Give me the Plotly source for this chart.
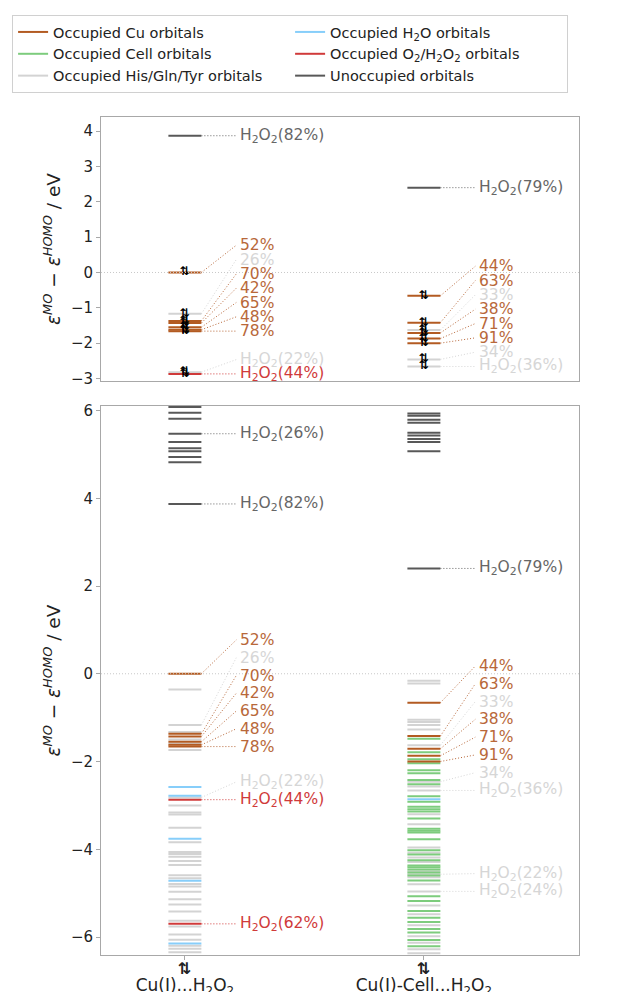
import plotly.graph_objects as go

# ---------------- data ----------------
system_names = ["Cu(I)...H<sub>2</sub>O<sub>2</sub>",
                "Cu(I)-Cell...H<sub>2</sub>O<sub>2</sub>"]
pair_symbol = "⇅"

category_keys = ["Cu", "H2O", "Cell", "O2", "His", "Unocc"]
category_names = ["Occupied Cu orbitals",
                  "Occupied H<sub>2</sub>O orbitals",
                  "Occupied Cell orbitals",
                  "Occupied O<sub>2</sub>/H<sub>2</sub>O<sub>2</sub> orbitals",
                  "Occupied His/Gln/Tyr orbitals",
                  "Unoccupied orbitals"]

# Cu(I)...H2O2 orbital energies (eV, relative to HOMO)
s1_cu = [0.00, -1.37, -1.43, -1.55, -1.62, -1.66]
s1_h2o = [-2.58, -2.78, -3.76, -4.72, -6.15]
s1_cell = []
s1_o2 = [-2.87, -5.70]
s1_his = [-0.36, -1.17, -1.33, -1.50, -1.59, -1.74, -2.82, -3.00, -3.16, -3.21,
          -3.51, -3.84, -4.06, -4.11, -4.17, -4.27, -4.36, -4.59, -4.66, -4.79,
          -4.85, -4.97, -5.14, -5.26, -5.42, -5.63, -5.76, -5.94, -6.06, -6.20,
          -6.27, -6.35]
s1_unocc = [6.08, 5.95, 5.81, 5.47, 5.28, 5.14, 5.07, 4.94, 4.82, 3.87]

# Cu(I)-Cell...H2O2 orbital energies (eV, relative to HOMO)
s2_cu = [-0.66, -1.42, -1.71, -1.87, -2.00]
s2_h2o = [-2.86]
s2_cell = [-1.48, -1.79, -1.95, -2.04, -2.20, -2.27, -2.42, -2.52, -2.79, -2.92,
           -3.03, -3.09, -3.14, -3.30, -3.53, -3.58, -3.62, -3.77, -4.02, -4.12,
           -4.25, -4.37, -4.41, -4.46, -4.53, -4.60, -4.71, -5.07, -5.18, -5.41,
           -5.56, -5.66, -5.82, -5.90, -6.07, -6.21]
s2_o2 = []
s2_his = [-0.16, -0.22, -1.05, -1.10, -1.17, -1.27, -1.63, -2.46, -2.57, -2.66,
          -3.20, -3.43, -3.96, -4.08, -4.19, -4.29, -4.50, -4.57, -4.64, -4.80,
          -4.96, -5.28, -5.48, -5.73, -5.98, -6.13, -6.28, -6.37]
s2_unocc = [5.93, 5.88, 5.79, 5.72, 5.49, 5.43, 5.35, 5.28, 5.07, 2.40]

# labelled orbitals: energy, category, label
s1_label_energy = [5.47, 3.87, 0.00, -1.17, -1.37, -1.43, -1.55, -1.62, -1.66, -2.82, -2.87, -5.70]
s1_label_cat = ["Unocc", "Unocc", "Cu", "His", "Cu", "Cu", "Cu", "Cu", "Cu", "His", "O2", "O2"]
s1_label_text = ["H<sub>2</sub>O<sub>2</sub>(26%)", "H<sub>2</sub>O<sub>2</sub>(82%)", "52%", "26%",
                 "70%", "42%", "65%", "48%", "78%", "H<sub>2</sub>O<sub>2</sub>(22%)",
                 "H<sub>2</sub>O<sub>2</sub>(44%)", "H<sub>2</sub>O<sub>2</sub>(62%)"]

s2_label_energy = [2.40, -0.66, -1.42, -1.63, -1.71, -1.87, -2.00, -2.46, -2.66, -4.57, -4.96]
s2_label_cat = ["Unocc", "Cu", "Cu", "His", "Cu", "Cu", "Cu", "His", "His", "His", "His"]
s2_label_text = ["H<sub>2</sub>O<sub>2</sub>(79%)", "44%", "63%", "33%", "38%", "71%", "91%", "34%",
                 "H<sub>2</sub>O<sub>2</sub>(36%)", "H<sub>2</sub>O<sub>2</sub>(22%)",
                 "H<sub>2</sub>O<sub>2</sub>(24%)"]

# ---------------- styling ----------------
line_color = {"Cu": "#b35b22", "H2O": "#87cefa", "Cell": "#7dcc7d",
              "O2": "#d03a3a", "His": "#d3d3d3", "Unocc": "#585858"}
label_color = {"Cu": "#b8683a", "H2O": "#87cefa", "Cell": "#7dcc7d",
               "O2": "#d03a3a", "His": "#d6d6d6", "Unocc": "#666666"}
draw_order = ["His", "Cell", "H2O", "O2", "Cu", "Unocc"]
FONT = "DejaVu Sans"

HALF = 0.069          # half width of a level line (x units)
CONN_END = 0.215      # connector end offset
LABEL_X = 0.222       # label offset
GAP = 0.405           # minimum label spacing (eV)
TOP_RANGE = [-3.07, 4.40]
BOT_RANGE = [-6.41, 6.10]
X_RANGE = [-0.351, 1.649]

systems = [
    {"Cu": s1_cu, "H2O": s1_h2o, "Cell": s1_cell, "O2": s1_o2, "His": s1_his, "Unocc": s1_unocc,
     "le": s1_label_energy, "lc": s1_label_cat, "lt": s1_label_text},
    {"Cu": s2_cu, "H2O": s2_h2o, "Cell": s2_cell, "O2": s2_o2, "His": s2_his, "Unocc": s2_unocc,
     "le": s2_label_energy, "lc": s2_label_cat, "lt": s2_label_text},
]

# label positions: pushed upward to keep a minimum spacing
for s in systems:
    idx = sorted(range(len(s["le"])), key=lambda i: s["le"][i])
    pos = [0.0] * len(idx)
    prev = None
    for i in idx:
        p = s["le"][i] if prev is None else max(s["le"][i], prev + GAP)
        pos[i] = p
        prev = p
    s["lp"] = pos

fig = go.Figure()


def segments(xc, energies):
    xs, ys = [], []
    for e in energies:
        xs += [xc - HALF, xc + HALF, None]
        ys += [e, e, None]
    return xs, ys


def in_range(v, r):
    return r[0] <= v <= r[1]


# bottom panel: all orbitals
for key in draw_order:
    xs, ys = [], []
    for xc, s in enumerate(systems):
        a, b = segments(xc, s[key])
        xs += a
        ys += b
    if not xs:
        xs, ys = [None], [None]
    fig.add_trace(go.Scatter(x=xs, y=ys, mode="lines", xaxis="x2", yaxis="y2",
                             line=dict(color=line_color[key], width=2),
                             name=category_names[category_keys.index(key)],
                             legendrank=category_keys.index(key) + 1,
                             hoverinfo="skip", showlegend=True))

# top panel: labelled orbitals only
for key in draw_order:
    xs, ys = [], []
    for xc, s in enumerate(systems):
        es = [e for e, c in zip(s["le"], s["lc"]) if c == key and in_range(e, TOP_RANGE)]
        a, b = segments(xc, es)
        xs += a
        ys += b
    if xs:
        fig.add_trace(go.Scatter(x=xs, y=ys, mode="lines", xaxis="x", yaxis="y",
                                 line=dict(color=line_color[key], width=2),
                                 hoverinfo="skip", showlegend=False))

# electron pair markers on occupied labelled orbitals (top panel)
mx, my = [], []
for xc, s in enumerate(systems):
    for e, c in zip(s["le"], s["lc"]):
        if c != "Unocc" and in_range(e, TOP_RANGE):
            mx.append(xc)
            my.append(e)
fig.add_trace(go.Scatter(x=mx, y=my, mode="text", text=["<b>" + pair_symbol + "</b>"] * len(mx),
                         xaxis="x", yaxis="y",
                         textfont=dict(size=12, color="black", family=FONT),
                         hoverinfo="skip", showlegend=False))

# connectors and labels
annotations = []
for panel, (xa, ya, rng) in enumerate([("x", "y", TOP_RANGE), ("x2", "y2", BOT_RANGE)]):
    for key in category_keys:
        xs, ys = [], []
        for xc, s in enumerate(systems):
            for e, c, t, p in zip(s["le"], s["lc"], s["lt"], s["lp"]):
                if c != key or not in_range(e, rng) or not in_range(p, rng):
                    continue
                xs += [xc + HALF, xc + CONN_END, None]
                ys += [e, p, None]
                annotations.append(dict(x=xc + LABEL_X, y=p, xref=xa, yref=ya, text=t,
                                        showarrow=False, xanchor="left", yanchor="middle",
                                        font=dict(size=15.5, color=label_color[c], family=FONT)))
        if xs:
            fig.add_trace(go.Scatter(x=xs, y=ys, mode="lines", xaxis=xa, yaxis=ya,
                                     line=dict(color=label_color[key], width=1, dash="1px,2px"),
                                     hoverinfo="skip", showlegend=False))

# pair symbol under each x tick (first line of the tick label)
for xc in range(len(system_names)):
    annotations.append(dict(x=xc, y=BOT_RANGE[0], xref="x2", yref="y2", text="<b>" + pair_symbol + "</b>",
                            showarrow=False, xanchor="center", yanchor="middle", yshift=-13,
                            font=dict(size=16, color="#222", family=FONT)))

ytitle = "<i>ε</i><sup><i>MO</i></sup> − <i>ε</i><sup><i>HOMO</i></sup> / eV"
axis_common = dict(showline=True, mirror=True, linecolor="#a8a8a8", linewidth=1,
                   showgrid=False, zeroline=False, ticklen=4,
                   tickcolor="#a8a8a8")
tick_font = dict(size=15, color="#222", family=FONT)
title_font = dict(size=18.5, color="#222", family=FONT)

# the page shows the figure 8 px in from the top-left corner
fig.update_layout(
    width=611, height=984,
    margin=dict(l=93, r=40, t=109, b=37, autoexpand=False),
    paper_bgcolor="white", plot_bgcolor="white",
    font=dict(family=FONT, color="#222"),
    xaxis=dict(domain=[0, 1], anchor="y", range=X_RANGE, showticklabels=False, ticks="",
               **axis_common),
    yaxis=dict(domain=[0.685, 1.0], anchor="x", range=TOP_RANGE, tickvals=[-3, -2, -1, 0, 1, 2, 3, 4],
               ticks="outside", tickfont=tick_font,
               title=dict(text=ytitle, font=title_font, standoff=5), **axis_common),
    xaxis2=dict(domain=[0, 1], anchor="y2", range=X_RANGE, tickvals=[0, 1], ticktext=system_names,
                ticks="outside", ticklabelstandoff=11,
                tickfont=dict(size=17, color="#222", family=FONT), **axis_common),
    yaxis2=dict(domain=[0, 0.655], anchor="x2", range=BOT_RANGE, tickvals=[-6, -4, -2, 0, 2, 4, 6],
                ticks="outside", tickfont=tick_font,
                title=dict(text=ytitle, font=title_font, standoff=5), **axis_common),
    legend=dict(orientation="h", x=-0.186, xanchor="left", y=1.1217, yanchor="top",
                entrywidth=232, entrywidthmode="pixels", traceorder="normal",
                font=dict(size=14.5, color="#222", family=FONT),
                bordercolor="#d0d0d0", borderwidth=1, bgcolor="white"),
    annotations=annotations,
    shapes=[dict(type="line", xref="x domain", yref="y", x0=0, x1=1, y0=0, y1=0,
                 line=dict(color="#c8c8c8", width=1, dash="1px,2px"), layer="above"),
            dict(type="line", xref="x2 domain", yref="y2", x0=0, x1=1, y0=0, y1=0,
                 line=dict(color="#c8c8c8", width=1, dash="1px,2px"), layer="above")],
)

fig.write_html("out.html")
